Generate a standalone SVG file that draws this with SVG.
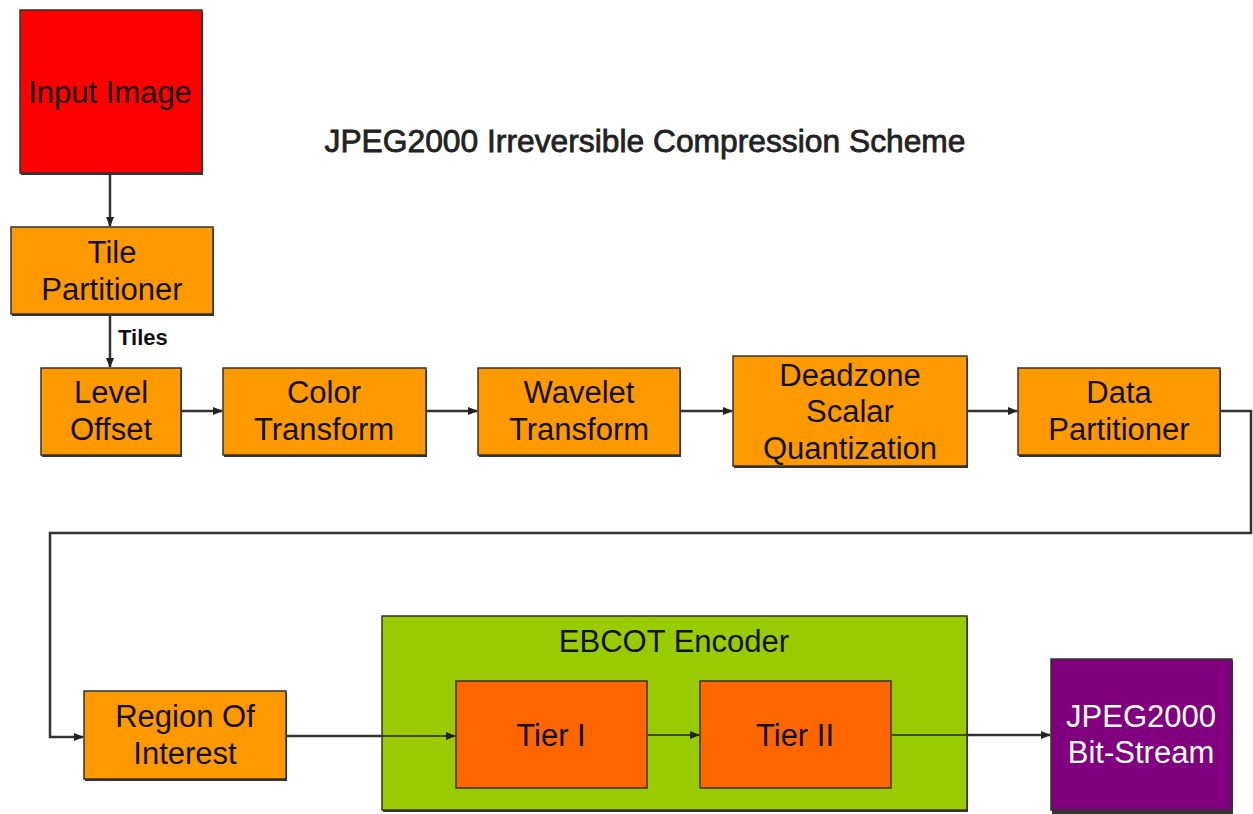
<svg xmlns="http://www.w3.org/2000/svg" width="1253" height="814" viewBox="0 0 1253 814">
<defs>
<marker id="ah" markerWidth="10" markerHeight="10" refX="9" refY="5" orient="auto" markerUnits="userSpaceOnUse">
<path d="M0,1 L10,5 L0,9 Z" fill="#222"/>
</marker>
<style>
.box{stroke:#333;stroke-width:1.5}
.sh{fill:#333}
.orange{fill:#FF9900}
.red{fill:#FF0000}
.green{fill:#99CC00}
.tier{fill:#FF6600}
.purple{fill:#800080}
.t{font-family:"Liberation Sans",Arial,sans-serif;font-size:31px;fill:#111;text-anchor:middle}
.w{fill:#fff}
.c{fill:none;stroke:#333;stroke-width:2.5}
.thin{fill:none;stroke:#222;stroke-width:1.5}
</style>
</defs>
<rect width="1253" height="814" fill="#fff"/>
<text x="645" y="152" font-family="'Liberation Sans',Arial,sans-serif" font-size="32" fill="#222" stroke="#222" stroke-width="0.8" text-anchor="middle" textLength="641" lengthAdjust="spacingAndGlyphs">JPEG2000 Irreversible Compression Scheme</text>

<g id="input-image">
<rect class="sh" x="21" y="12" width="182" height="163"/>
<rect class="box red" x="20" y="10" width="182" height="163"/>
<text class="t" x="110" y="103">Input Image</text>
</g>

<g id="tile-partitioner">
<rect class="sh" x="12" y="229" width="202" height="87"/>
<rect class="box orange" x="11" y="227" width="202" height="87"/>
<text class="t" x="112" y="263">Tile</text>
<text class="t" x="112" y="300">Partitioner</text>
</g>

<g id="level-offset">
<rect class="sh" x="42" y="370" width="140" height="87"/>
<rect class="box orange" x="41" y="368" width="140" height="87"/>
<text class="t" x="111" y="403">Level</text>
<text class="t" x="111" y="440">Offset</text>
</g>

<g id="color-transform">
<rect class="sh" x="224" y="370" width="203" height="87"/>
<rect class="box orange" x="223" y="368" width="203" height="87"/>
<text class="t" x="324" y="403">Color</text>
<text class="t" x="324" y="440">Transform</text>
</g>

<g id="wavelet-transform">
<rect class="sh" x="479" y="370" width="202" height="87"/>
<rect class="box orange" x="478" y="368" width="202" height="87"/>
<text class="t" x="579" y="403">Wavelet</text>
<text class="t" x="579" y="440">Transform</text>
</g>

<g id="deadzone">
<rect class="sh" x="734" y="358" width="234" height="110"/>
<rect class="box orange" x="733" y="356" width="234" height="110"/>
<text class="t" x="850" y="386">Deadzone</text>
<text class="t" x="850" y="422">Scalar</text>
<text class="t" x="850" y="459">Quantization</text>
</g>

<g id="data-partitioner">
<rect class="sh" x="1019" y="370" width="202" height="87"/>
<rect class="box orange" x="1018" y="368" width="202" height="87"/>
<text class="t" x="1119" y="403">Data</text>
<text class="t" x="1119" y="440">Partitioner</text>
</g>

<g id="region-of-interest">
<rect class="sh" x="85" y="693" width="202" height="88"/>
<rect class="box orange" x="84" y="691" width="202" height="88"/>
<text class="t" x="185" y="727">Region Of</text>
<text class="t" x="185" y="764">Interest</text>
</g>

<g id="ebcot-encoder">
<rect class="sh" x="383" y="618" width="585" height="194"/>
<rect class="box green" x="382" y="616" width="585" height="194"/>
<text class="t" x="674" y="652">EBCOT Encoder</text>
</g>

<g id="tier-1">
<rect class="box tier" x="456" y="681" width="191" height="107"/>
<text class="t" x="551" y="746">Tier I</text>
</g>

<g id="tier-2">
<rect class="box tier" x="700" y="681" width="191" height="107"/>
<text class="t" x="795" y="746">Tier II</text>
</g>

<g id="bit-stream">
<rect class="sh" x="1052" y="661" width="181" height="153"/>
<rect class="box purple" x="1051" y="659" width="181" height="151"/>
<text class="t w" x="1141" y="727">JPEG2000</text>
<text class="t w" x="1141" y="763">Bit-Stream</text>
</g>

<g id="connectors">
<path class="c" d="M110,174 V226" marker-end="url(#ah)"/>
<path class="c" d="M110,316 V367" marker-end="url(#ah)"/>
<text x="118" y="345" font-family="'Liberation Sans',Arial,sans-serif" font-size="22" font-weight="bold" fill="#111">Tiles</text>
<path class="c" d="M182,411 H222" marker-end="url(#ah)"/>
<path class="c" d="M427,411 H477" marker-end="url(#ah)"/>
<path class="c" d="M681,411 H732" marker-end="url(#ah)"/>
<path class="c" d="M968,411 H1017" marker-end="url(#ah)"/>
<path class="c" d="M1221,411 H1251 V533 H50 V737 H83" marker-end="url(#ah)"/>
<path class="c" d="M287,736 H382"/>
<path class="thin" d="M382,736 H455" marker-end="url(#ah)"/>
<path class="thin" d="M648,735 H699" marker-end="url(#ah)"/>
<path class="thin" d="M892,735 H967"/>
<path class="c" d="M967,735 H1050" marker-end="url(#ah)"/>
</g>
</svg>
